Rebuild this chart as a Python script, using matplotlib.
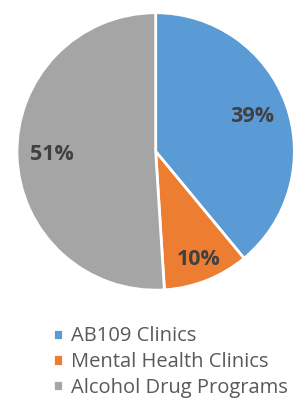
import numpy as np
import matplotlib
matplotlib.use("Agg")
import matplotlib.pyplot as plt

# data
labels = ["AB109 Clinics", "Mental Health Clinics", "Alcohol Drug Programs"]
shares = [39, 10, 51]
colors = ["#5B9BD5", "#ED7D31", "#A5A5A5"]
label_dist = [0.74, 0.84, 0.75]

plt.rcParams['font.family'] = ['Open Sans', 'DejaVu Sans']

fig = plt.figure(figsize=(2.94, 3.98), dpi=100)
ax = fig.add_axes([0.057, 0.271, 0.945, 0.697])

wedges, _ = ax.pie(shares, colors=colors, startangle=90, counterclock=False,
                   wedgeprops=dict(edgecolor='white', linewidth=2))

# percentage labels placed along each wedge's mid angle
for w, v, d in zip(wedges, shares, label_dist):
    ang = np.deg2rad((w.theta1 + w.theta2) / 2)
    ax.text(d * np.cos(ang), d * np.sin(ang), f"{v}%", ha='center', va='center',
            fontsize=15.5, fontweight='bold', color='#404040')

ax.set_xlim(-1, 1)
ax.set_ylim(-1, 1)
ax.set_aspect('equal')
ax.axis('off')

leg = fig.legend(wedges, labels, loc='upper left', bbox_to_anchor=(0.145, 0.205),
                 frameon=False, fontsize=14.5, handlelength=0.5, handleheight=0.5,
                 handletextpad=0.4, labelspacing=0.28, borderpad=0)
for t in leg.get_texts():
    t.set_color('#595959')

fig.savefig("out.png", dpi=100)
